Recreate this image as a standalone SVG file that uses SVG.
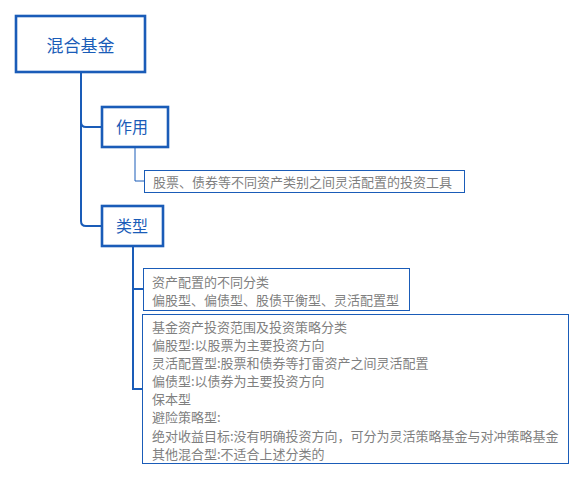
<svg xmlns="http://www.w3.org/2000/svg" width="586" height="481" viewBox="0 0 586 481">
<style>
.main{fill:#fff;stroke:#1a5cb8;stroke-width:2.6}
.leaf{fill:#fff;stroke:#1a5cb8;stroke-width:1}
.t1{font-family:"Noto Sans CJK SC","Noto Sans",sans-serif;fill:#1a5cb8}
.t2{font-family:"Noto Sans CJK SC","Noto Sans",sans-serif;font-size:13px;fill:#7f7f7f}
.c{fill:none;stroke:#1a5cb8}
</style>
<rect width="586" height="481" fill="#fff"/>
<g id="connectors">
<path class="c" stroke-width="2" d="M81,73 V122 Q81,127 86,127 H101"/>
<path class="c" stroke-width="2" d="M81,122 V221 Q81,226 86,226 H101"/>
<path class="c" stroke-width="1" d="M135,148 V181 H144"/>
<path class="c" stroke-width="2" d="M133,247 V389 H142"/>
<path class="c" stroke-width="2" d="M133,289 H143"/>
</g>
<g id="root">
<rect class="main" x="16" y="16" width="129" height="56"/>
<text class="t1" x="80.5" y="52" font-size="17" text-anchor="middle">混合基金</text>
</g>
<g id="zuoyong">
<rect class="main" x="102" y="107" width="66" height="40"/>
<text class="t1" x="116" y="133" font-size="16">作用</text>
</g>
<g id="zuoyong-leaf">
<rect class="leaf" x="144.5" y="170.5" width="320" height="22"/>
<text class="t2" x="153" y="186.5">股票、债券等不同资产类别之间灵活配置的投资工具</text>
</g>
<g id="leixing">
<rect class="main" x="102" y="206" width="61" height="40"/>
<text class="t1" x="116" y="232" font-size="16">类型</text>
</g>
<g id="leixing-leaf1">
<rect class="leaf" x="143.5" y="268.5" width="266" height="42"/>
<text class="t2" x="152" y="287">资产配置的不同分类</text>
<text class="t2" x="152" y="304.5">偏股型、偏债型、股债平衡型、灵活配置型</text>
</g>
<g id="leixing-leaf2">
<rect class="leaf" x="142.5" y="314.5" width="426" height="149"/>
<text class="t2" x="152" y="332">基金资产投资范围及投资策略分类</text>
<text class="t2" x="152" y="350">偏股型:以股票为主要投资方向</text>
<text class="t2" x="152" y="368">灵活配置型:股票和债券等打雷资产之间灵活配置</text>
<text class="t2" x="152" y="386">偏债型:以债券为主要投资方向</text>
<text class="t2" x="152" y="404">保本型</text>
<text class="t2" x="152" y="422">避险策略型:</text>
<text class="t2" x="152" y="440.5">绝对收益目标:没有明确投资方向，可分为灵活策略基金与对冲策略基金</text>
<text class="t2" x="152" y="458.5">其他混合型:不适合上述分类的</text>
</g>
</svg>
